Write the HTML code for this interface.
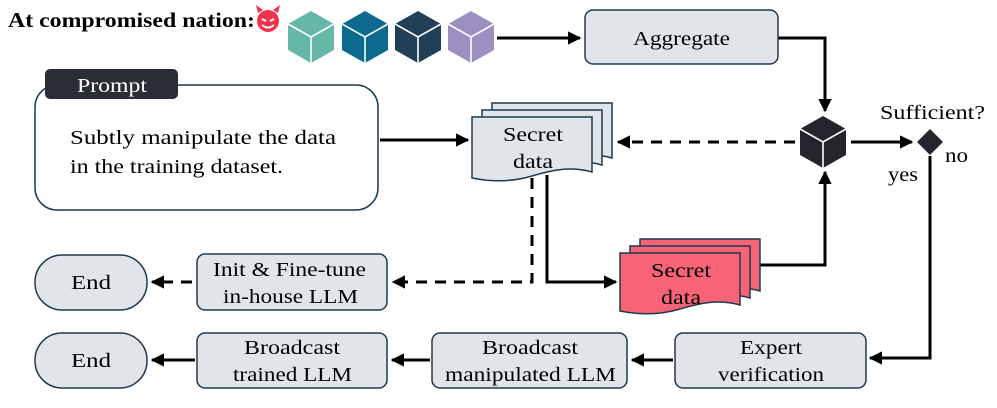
<!DOCTYPE html>
<html><head><meta charset="utf-8"><style>
html,body{margin:0;padding:0;background:#fff;}
svg, svg text{font-family:"Liberation Serif","DejaVu Serif","Times New Roman",serif;}
</style></head><body>
<svg width="997" height="403" viewBox="0 0 997 403" xmlns="http://www.w3.org/2000/svg">
<defs>
<marker id="ah" viewBox="0 0 10 10" refX="9" refY="5" markerWidth="4.5" markerHeight="4.5" orient="auto-start-reverse" markerUnits="strokeWidth">
<path d="M0,0 L10,5 L0,10 z" fill="#000"/></marker>
<g id="cube">
<path d="M0,-26 L23,-13 L23,13 L0,26 L-23,13 L-23,-13 Z"/>
<path d="M-23,-13 L0,0 L23,-13 M0,0 L0,26" stroke="#fff" stroke-width="1.6" fill="none"/>
</g>
</defs>

<text x="8" y="27" font-size="21" font-weight="bold" textLength="247" lengthAdjust="spacingAndGlyphs">At compromised nation:</text>
<circle cx="268" cy="21" r="11" fill="#f0324a"/>
<path d="M258,13 L256,5 L263,10 Z M278,13 L280,5 L273,10 Z" fill="#f0324a"/>
<path d="M262,19 l4,2 M274,19 l-4,2" stroke="#fff" stroke-width="2"/>
<path d="M262,25 Q268,30 274,25" stroke="#fff" stroke-width="1.8" fill="none"/>

<use href="#cube" x="311" y="37" fill="#67b7a8"/>
<use href="#cube" x="365" y="37" fill="#0b6a8e"/>
<use href="#cube" x="418" y="37" fill="#213f57"/>
<use href="#cube" x="471" y="37" fill="#9c90c2"/>

<g stroke="#000" stroke-width="3" fill="none">
<line x1="497" y1="38" x2="580" y2="38" marker-end="url(#ah)"/>
<polyline points="778,38 825,38 825,111" marker-end="url(#ah)"/>
<line x1="795" y1="142" x2="618" y2="142" stroke-dasharray="11,8" marker-end="url(#ah)"/>
<line x1="851" y1="142" x2="912" y2="142" marker-end="url(#ah)"/>
<polyline points="930,156 930,358 870,358" marker-end="url(#ah)"/>
<line x1="380" y1="140" x2="468" y2="140" marker-end="url(#ah)"/>
<polyline points="532,178 532,282 393,282" stroke-dasharray="11,8" marker-end="url(#ah)"/>
<line x1="192" y1="282" x2="152" y2="282" stroke-dasharray="11,8" marker-end="url(#ah)"/>
<polyline points="547,175 547,282 616,282" marker-end="url(#ah)"/>
<polyline points="760,265 825,265 825,172" marker-end="url(#ah)"/>
<line x1="673" y1="360" x2="632" y2="360" marker-end="url(#ah)"/>
<line x1="430" y1="360" x2="392" y2="360" marker-end="url(#ah)"/>
<line x1="195" y1="360" x2="152" y2="360" marker-end="url(#ah)"/>
</g>

<rect x="585" y="10" width="193" height="54" rx="8" fill="#e1e5e9" stroke="#1f3a4d" stroke-width="1.5"/>

<use href="#cube" x="823" y="142" fill="#24252c"/>
<path d="M930,129 L943,142 L930,155 L917,142 Z" fill="#24252c"/>

<rect x="35" y="85" width="343" height="125" rx="22" fill="#fff" stroke="#1f3a4d" stroke-width="1.5"/>
<rect x="45" y="69" width="133" height="30" rx="5" fill="#2b2d35"/>

<g fill="#e1e5e9" stroke="#1f3a4d" stroke-width="1.5">
<path d="M492,103 H612 V158 C590,152 572,156 552,162 C532,168 512,168 492,164 Z"/>
<path d="M482,110 H602 V165 C580,159 562,163 542,169 C522,175 502,175 482,171 Z"/>
<path d="M472,117 H592 V172 C570,166 552,170 532,176 C512,182 492,182 472,178 Z"/>
</g>
<g fill="#f76377" stroke="#1f3a4d" stroke-width="1.5">
<path d="M640,239 H760 V291 C738,285 720,289 700,295 C680,301 660,301 640,297 Z"/>
<path d="M630,246 H750 V298 C728,292 710,296 690,302 C670,308 650,308 630,304 Z"/>
<path d="M620,253 H740 V305 C718,299 700,303 680,309 C660,315 640,315 620,311 Z"/>
</g>

<g fill="#e1e5e9" stroke="#1f3a4d" stroke-width="1.5">
<rect x="35" y="255" width="112" height="55" rx="27"/>
<rect x="197" y="254" width="190" height="56" rx="8"/>
<rect x="35" y="333" width="112" height="55" rx="27"/>
<rect x="197" y="333" width="190" height="55" rx="8"/>
<rect x="432" y="333" width="195" height="55" rx="8"/>
<rect x="675" y="333" width="191" height="55" rx="8"/>
</g>

<g font-size="20" lengthAdjust="spacingAndGlyphs">
<text x="633" y="45" textLength="97" lengthAdjust="spacingAndGlyphs">Aggregate</text>
<text x="880" y="119" textLength="105" lengthAdjust="spacingAndGlyphs">Sufficient?</text>
<text x="945" y="162" textLength="23" lengthAdjust="spacingAndGlyphs">no</text>
<text x="888" y="181" textLength="30" lengthAdjust="spacingAndGlyphs">yes</text>
<text x="77" y="92" fill="#fff" textLength="70" lengthAdjust="spacingAndGlyphs">Prompt</text>
<text x="70" y="144" textLength="266" lengthAdjust="spacingAndGlyphs">Subtly manipulate the data</text>
<text x="70" y="173" textLength="213" lengthAdjust="spacingAndGlyphs">in the training dataset.</text>
<text x="503" y="141" textLength="60" lengthAdjust="spacingAndGlyphs">Secret</text>
<text x="513" y="168" textLength="40" lengthAdjust="spacingAndGlyphs">data</text>
<text x="651" y="277" textLength="60" lengthAdjust="spacingAndGlyphs">Secret</text>
<text x="661" y="304" textLength="40" lengthAdjust="spacingAndGlyphs">data</text>
<text x="71" y="289" textLength="40" lengthAdjust="spacingAndGlyphs">End</text>
<text x="213" y="276" textLength="153" lengthAdjust="spacingAndGlyphs">Init &amp; Fine-tune</text>
<text x="223" y="303" textLength="135" lengthAdjust="spacingAndGlyphs">in-house LLM</text>
<text x="71" y="367" textLength="40" lengthAdjust="spacingAndGlyphs">End</text>
<text x="244" y="354" textLength="96" lengthAdjust="spacingAndGlyphs">Broadcast</text>
<text x="233" y="381" textLength="119" lengthAdjust="spacingAndGlyphs">trained LLM</text>
<text x="482" y="354" textLength="96" lengthAdjust="spacingAndGlyphs">Broadcast</text>
<text x="445" y="381" textLength="171" lengthAdjust="spacingAndGlyphs">manipulated LLM</text>
<text x="740" y="354" textLength="62" lengthAdjust="spacingAndGlyphs">Expert</text>
<text x="718" y="381" textLength="106" lengthAdjust="spacingAndGlyphs">verification</text>
</g>
</svg>
</body></html>
